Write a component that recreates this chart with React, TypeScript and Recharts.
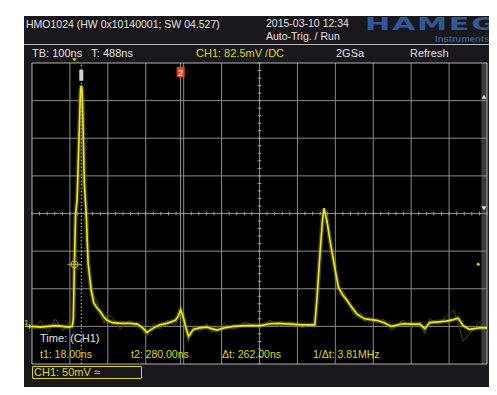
import {
  ComposedChart,
  Line,
  XAxis,
  YAxis,
  CartesianGrid,
  ReferenceLine,
  ReferenceDot,
  ReferenceArea,
} from "recharts"

// time in ns, voltage in mV (ground = 0)
const TIME = [
  -112, -90, -70, -50, -30, -15, -6, -3, 0, 3, 7, 12, 16, 18, 20, 23, 26, 31, 36, 44, 51, 60, 69, 78, 86,
  100, 121, 145, 166, 180, 191, 200, 209, 225, 244, 266, 274, 280, 286, 292, 301, 314, 330, 349, 362,
  376, 395, 419, 450, 490, 516, 540, 569, 600, 630, 634, 640, 648, 654, 658, 666, 674, 683, 696, 707,
  718, 732, 744, 755, 766, 780, 797, 815, 836, 866, 890, 911, 924, 937, 960, 981, 1000, 1012, 1025,
  1042, 1068, 1088,
]
const CH1 = [
  0, -1, 0, 1, 0, -1, 0, 10, 84, 150, 168, 250, 315, 320, 315, 260, 190, 150, 84, 48, 31, 24, 19, 12, 8,
  5, 4, 4, 3, -2, -8, -5, -2, 2, 4, 8, 14, 22, 14, 2, -13, -4, -2, -1, -3,
  -5, -2, 0, 1, 1, 3.5, 4, 3, 2, 2, 2, 40, 100, 140, 157, 140, 114, 88, 52, 42,
  35, 25, 17, 13, 10, 9, 8, 5, 0, 3.5, 3, 3, -3, 5, 6, 7, 9, 11, 1,
  -4, -2, -2,
]
const GHOST = [
  -6, 8, -8, 10, -6, 6, -2, 10, 84, 150, 168, 250, 315, 320, 315, 260, 190, 150, 84, 56, 40, 34, 14, 4, 16,
  12, -4, 8, 0, -6, -14, -2, 4, -4, 8, 2, 10, 18, 8, -4, -20, 2, -8, 4, -8,
  -2, 4, -4, 6, -2, 8, 0, 6, -2, 4, 2, 40, 100, 140, 157, 140, 114, 88, 52, 48,
  38, 20, 12, 18, 6, 12, 4, 10, -6, 8, -2, 6, -10, 10, 2, 14, 22, 4, -20,
  -10, 6, -6,
]

// screen grid: 12 x 100 ns, 8 x 50 mV
const GRID_T = [-112, -12, 88, 188, 288, 388, 488, 588, 688, 788, 888, 988, 1088]
const GRID_V = [-50, 0, 50, 100, 150, 200, 250, 300, 350]
const MINOR_T = Array.from({ length: 61 }, (_, i) => -112 + i * 20)
const MINOR_V = Array.from({ length: 41 }, (_, i) => -50 + i * 10)

const CURSOR_T1 = 18
const CURSOR_T2 = 280
const TRIG_LEVEL = 82.5

const data = TIME.map((t, i) => ({ t, v: CH1[i], g: GHOST[i] }))

const FONT = "'Liberation Sans', 'DejaVu Sans', sans-serif"
const WHITE = "#e2e2e2"
const YEL = "#dcd82a"

function Txt({ x, y, c = WHITE, s = 10.5, children }: any) {
  return (
    <div
      style={{
        position: "absolute",
        left: x,
        top: y - 7,
        height: 14,
        lineHeight: "14px",
        fontSize: s,
        color: c,
        whiteSpace: "nowrap",
        fontFamily: FONT,
      }}
    >
      {children}
    </div>
  )
}

export default function App() {
  return (
    <div style={{ position: "relative", width: 497, height: 395, margin: -8, background: "#fff", overflow: "hidden" }}>
      <div style={{ position: "absolute", left: 24, top: 16, width: 473, height: 379, background: "#19171b" }} />
      <div style={{ position: "absolute", left: 24, top: 44, width: 473, height: 1, background: "#b8b8b8" }} />

      {/* right soft-key panel */}
      <div style={{ position: "absolute", left: 493, top: 87, width: 6, height: 16, background: "#2f62b4" }} />
      <div style={{ position: "absolute", left: 493, top: 106, width: 6, height: 26, background: "#2c2c30", border: "1px solid #444" }} />
      <div style={{ position: "absolute", left: 493, top: 135, width: 6, height: 42, background: "#2c2c30", border: "1px solid #444" }} />
      <div style={{ position: "absolute", left: 493, top: 228, width: 6, height: 44, background: "#2c2c30", border: "1px solid #444" }} />
      <div style={{ position: "absolute", left: 493, top: 275, width: 6, height: 44, background: "#2c2c30", border: "1px solid #444" }} />

      <div style={{ position: "absolute", left: 0, top: 0 }}>
        <ComposedChart width={497} height={395} data={data} margin={{ top: 63, right: 10, bottom: 31, left: 32 }}>
          <CartesianGrid horizontal={false} vertical={false} fill="#000" />
          <XAxis type="number" dataKey="t" domain={[-112, 1088]} hide allowDataOverflow />
          <YAxis type="number" domain={[-50, 350]} hide allowDataOverflow />

          {GRID_T.map((t) => (
            <ReferenceLine key={"gt" + t} x={t} stroke={t === -112 || t === 1088 ? "#b0b0b0" : "#8a8a8a"} strokeWidth={1} />
          ))}
          {GRID_V.map((v) => (
            <ReferenceLine key={"gv" + v} y={v} stroke={v === -50 || v === 350 ? "#b0b0b0" : "#8a8a8a"} strokeWidth={1} />
          ))}
          {MINOR_T.map((t) => (
            <ReferenceLine key={"mt" + t} segment={[{ x: t, y: 147.5 }, { x: t, y: 152.5 }]} stroke="#a0a0a0" />
          ))}
          {MINOR_V.map((v) => (
            <ReferenceLine key={"mv" + v} segment={[{ x: 483, y: v }, { x: 493, y: v }]} stroke="#a0a0a0" />
          ))}

          <ReferenceArea x1={1073} x2={1088} y1={-50} y2={350} fill="#3a3a3c" fillOpacity={1} stroke="none" />

          <ReferenceLine x={CURSOR_T1} stroke="#c8c8c8" strokeDasharray="1.5 2" />
          <ReferenceLine x={CURSOR_T2} stroke="#9a9a9a" />

          <Line type="linear" dataKey="g" stroke="#46450b" strokeWidth={1} dot={false} isAnimationActive={false} />
          <Line type="linear" dataKey="v" stroke="#8a8712" strokeWidth={4.5} strokeOpacity={0.45} dot={false} isAnimationActive={false} />
          <Line type="linear" dataKey="v" stroke="#eeea1c" strokeWidth={1.6} dot={false} isAnimationActive={false} />

          {/* cursor markers */}
          <ReferenceDot
            x={CURSOR_T1}
            y={333}
            ifOverflow="visible"
            shape={(p: any) => <rect x={p.cx - 2} y={p.cy - 6} width={4} height={11} fill="#d0d0d0" />}
          />
          <ReferenceDot
            x={CURSOR_T2}
            y={338}
            ifOverflow="visible"
            shape={(p: any) => (
              <g>
                <rect x={p.cx - 4} y={p.cy - 5} width={8} height={10} fill="#e8401a" />
                <text x={p.cx} y={p.cy + 3.5} textAnchor="middle" fontSize={9} fill="#fff" fontFamily={FONT}>
                  2
                </text>
              </g>
            )}
          />
          {/* trigger position */}
          <ReferenceDot
            x={0}
            y={355}
            ifOverflow="visible"
            shape={(p: any) => <path d={`M${p.cx - 2.5},${p.cy - 1} L${p.cx + 2.5},${p.cy - 1} L${p.cx},${p.cy + 2} Z`} fill={YEL} />}
          />
          {/* trigger level crosshair */}
          <ReferenceDot
            x={0}
            y={TRIG_LEVEL}
            ifOverflow="visible"
            shape={(p: any) => (
              <g stroke="#c8c020" fill="none" strokeWidth={1}>
                <circle cx={p.cx} cy={p.cy} r={3.5} />
                <line x1={p.cx - 7} y1={p.cy} x2={p.cx + 7} y2={p.cy} />
                <line x1={p.cx} y1={p.cy - 7} x2={p.cx} y2={p.cy + 7} />
              </g>
            )}
          />
          <ReferenceDot x={1065} y={TRIG_LEVEL} r={1.5} fill={YEL} stroke="none" />
          {/* strip markers */}
          <ReferenceDot
            x={1080}
            y={305}
            ifOverflow="visible"
            shape={(p: any) => <path d={`M${p.cx - 2.5},${p.cy + 2} L${p.cx + 2.5},${p.cy + 2} L${p.cx},${p.cy - 2} Z`} fill="#e0e0e0" />}
          />
          <ReferenceDot
            x={1080}
            y={157}
            ifOverflow="visible"
            shape={(p: any) => <path d={`M${p.cx - 2.5},${p.cy - 2} L${p.cx + 2.5},${p.cy - 2} L${p.cx},${p.cy + 2} Z`} fill="#e0e0e0" />}
          />
          {/* ground marker */}
          <ReferenceDot
            x={-112}
            y={0}
            ifOverflow="visible"
            shape={(p: any) => (
              <g>
                <text x={p.cx - 8} y={p.cy - 1} fontSize={8} fill={YEL} fontFamily={FONT}>
                  1
                </text>
                <path d={`M${p.cx - 7},${p.cy} L${p.cx},${p.cy}`} stroke={YEL} strokeWidth={1.2} />
                <path d={`M${p.cx - 3},${p.cy - 2.5} L${p.cx},${p.cy} L${p.cx - 3},${p.cy + 2.5} Z`} fill={YEL} />
              </g>
            )}
          />
        </ComposedChart>
      </div>

      {/* header */}
      <Txt x={26} y={24}>HMO1024 (HW 0x10140001; SW 04.527)</Txt>
      <Txt x={266} y={23}>2015-03-10 12:34</Txt>
      <Txt x={266} y={36}>Auto-Trig. / Run</Txt>
      <div
        style={{
          position: "absolute",
          left: 365,
          top: 16,
          height: 16,
          lineHeight: "16px",
          fontFamily: "'DejaVu Sans', sans-serif",
          fontWeight: 700,
          fontSize: 18,
          letterSpacing: 1,
          color: "#2d5a96",
          transform: "scaleX(1.68)",
          transformOrigin: "left",
          whiteSpace: "nowrap",
        }}
      >
        HAMEG
      </div>
      <div
        style={{
          position: "absolute",
          left: 435,
          top: 34,
          height: 10,
          lineHeight: "10px",
          fontFamily: FONT,
          fontWeight: 700,
          fontSize: 9.5,
          color: "#2d5a96",
          whiteSpace: "nowrap",
        }}
      >
        Instruments
      </div>

      {/* info bar */}
      <Txt x={32} y={52.5} s={11}>TB: 100ns&nbsp;&nbsp;&nbsp;T: 488ns</Txt>
      <Txt x={196} y={52.5} s={11} c={YEL}>CH1: 82.5mV /DC</Txt>
      <Txt x={336} y={52.5} s={11}>2GSa</Txt>
      <Txt x={410} y={52.5} s={11}>Refresh</Txt>

      {/* cursor readout */}
      <Txt x={40} y={338} s={11}>Time: (CH1)</Txt>
      <Txt x={40} y={353.5} c={YEL}>t1: 18.00ns</Txt>
      <Txt x={131} y={353.5} c={YEL}>t2: 280.00ns</Txt>
      <Txt x={222} y={353.5} c={YEL}>Δt: 262.00ns</Txt>
      <Txt x={313} y={353.5} c={YEL}>1/Δt: 3.81MHz</Txt>

      <div
        style={{
          position: "absolute",
          left: 32,
          top: 366,
          width: 108,
          height: 11,
          border: `1px solid ${YEL}`,
          borderRadius: 1,
        }}
      />
      <Txt x={34} y={372} c={YEL} s={11}>CH1: 50mV ≈</Txt>
    </div>
  )
}
